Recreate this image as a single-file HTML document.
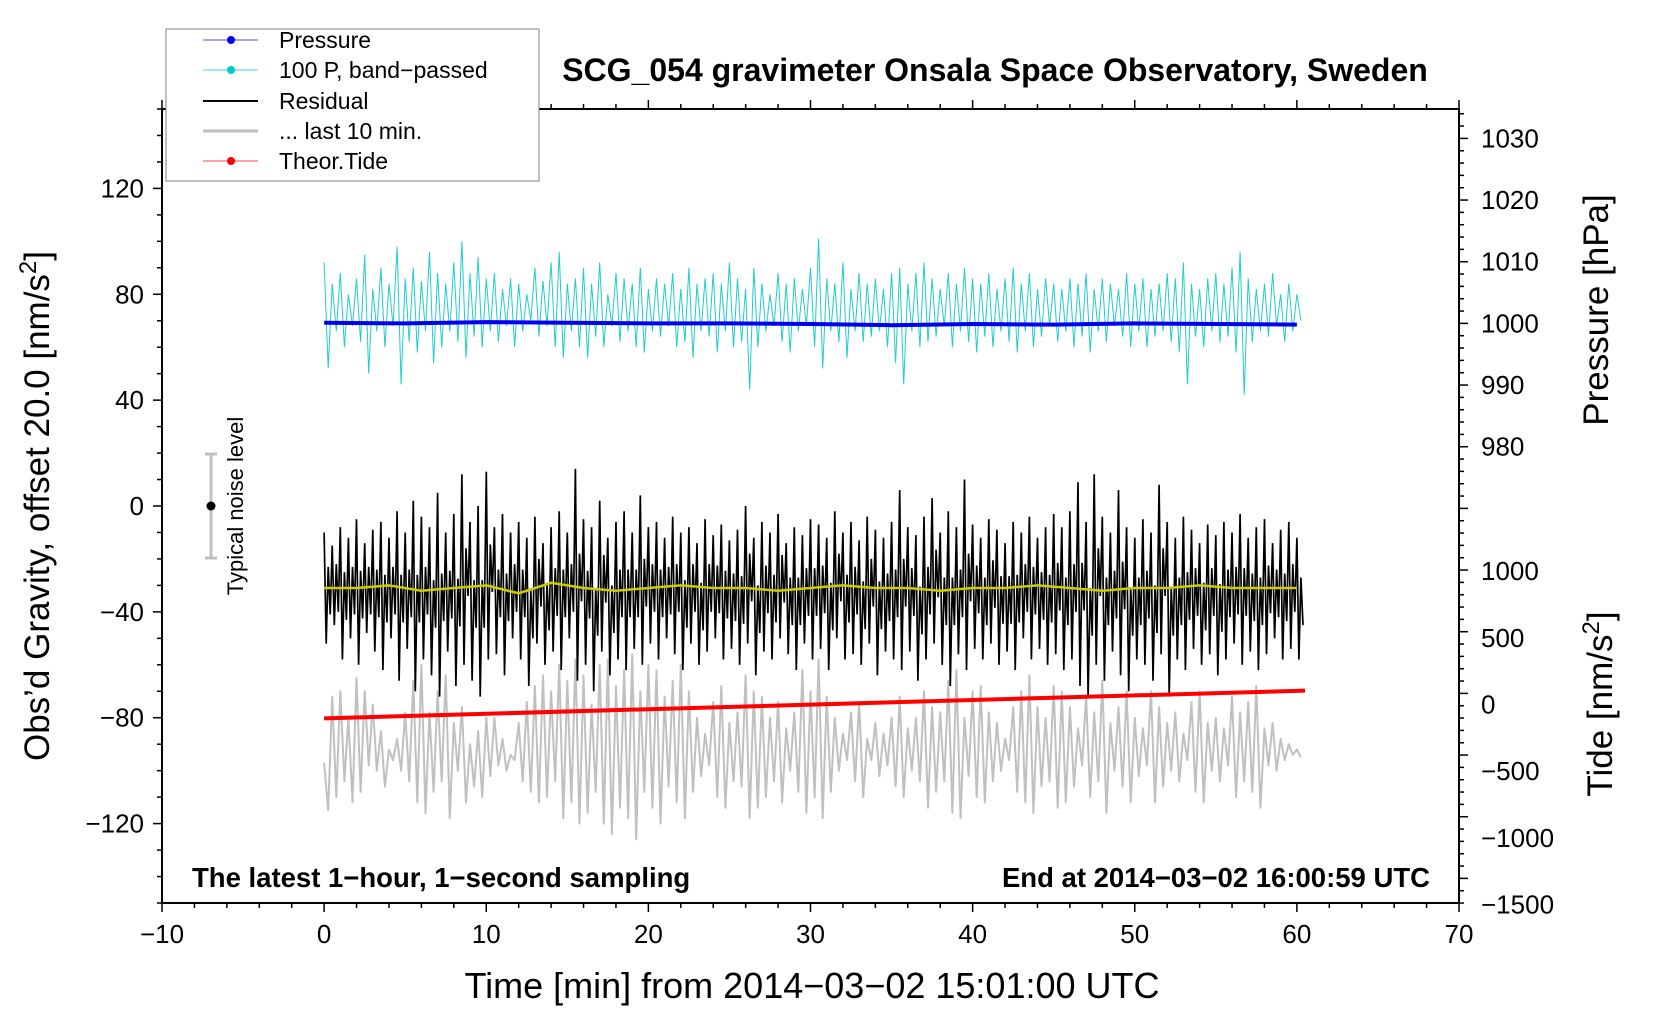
<!DOCTYPE html>
<html><head><meta charset="utf-8"><style>
html,body{margin:0;padding:0;background:#fff;}
svg{display:block;font-family:"Liberation Sans",sans-serif;}
</style></head><body>
<svg id="c" width="1660" height="1020" viewBox="0 0 1660 1020"></svg>
<script>
const resHi=[-10,-15,-8,-12,-5,-14,-9,-6,-12,-2,-10,2,-4,-8,5,-10,-3,12,-6,0,13,-8,-3,-10,-6,-12,-4,-14,-8,-2,-10,14,-5,-8,2,-12,-6,-2,-10,4,-8,-6,-12,-4,-10,-8,-14,-5,-11,-7,-13,-9,0,-12,-6,-10,-3,-14,-8,-11,-5,-7,-12,-2,-10,-6,-13,-4,-9,-12,-6,6,-8,-11,-4,3,-10,-2,-8,10,-7,-12,-5,-9,-14,-6,-10,-4,-12,-8,-3,-8,-2,9,-6,12,-4,-10,6,-8,-12,-5,-10,8,-6,-12,-4,-9,-14,-7,-11,-6,-10,-3,-12,-8,-5,-14,-9,-6,-12];
const resLo=[-52,-45,-58,-50,-60,-48,-55,-62,-50,-66,-54,-70,-58,-64,-72,-55,-68,-60,-66,-72,-58,-56,-64,-50,-58,-68,-52,-60,-55,-62,-50,-66,-60,-70,-55,-64,-58,-62,-54,-60,-52,-58,-50,-56,-62,-52,-60,-55,-50,-58,-54,-60,-52,-64,-55,-58,-50,-56,-62,-52,-58,-54,-62,-50,-58,-56,-60,-52,-64,-55,-58,-62,-55,-66,-58,-52,-60,-68,-56,-62,-54,-58,-52,-60,-55,-62,-50,-58,-54,-60,-56,-62,-58,-68,-72,-60,-66,-55,-64,-70,-58,-60,-66,-56,-72,-58,-62,-54,-60,-56,-64,-58,-52,-60,-55,-62,-56,-50,-58,-54,-58];
const cyHi=[92,84,88,80,86,95,82,90,84,98,86,90,85,96,88,84,92,100,88,94,86,88,82,86,84,80,90,85,92,96,84,86,90,84,92,80,88,86,84,90,82,86,84,88,82,90,84,86,88,84,92,86,82,90,84,80,88,84,86,82,90,101,86,84,92,82,88,84,86,82,88,90,84,88,92,86,82,88,84,90,86,84,88,82,86,90,84,88,82,86,84,82,86,84,88,82,86,84,82,88,84,86,82,84,88,86,92,84,82,86,88,84,90,96,86,82,84,88,80,84,80];
const cyLo=[52,66,60,68,62,50,66,60,68,46,62,58,66,54,60,66,62,56,64,60,66,62,68,60,66,70,64,68,60,56,66,60,56,64,60,68,62,66,60,58,66,64,68,60,62,56,66,64,58,66,60,62,44,60,66,68,62,58,66,68,60,52,66,62,56,66,62,64,66,60,54,46,66,60,62,64,68,60,66,62,58,64,60,66,62,58,66,60,64,68,62,66,60,64,58,66,62,68,64,60,66,60,64,66,62,58,46,64,60,66,62,64,58,42,62,66,64,68,62,66,70];
const grHi=[-97,-72,-70,-80,-65,-70,-75,-85,-92,-88,-78,-66,-60,-78,-70,-64,-82,-76,-90,-85,-80,-80,-88,-94,-82,-74,-68,-64,-70,-60,-66,-58,-64,-75,-60,-58,-68,-62,-56,-70,-60,-62,-72,-66,-60,-70,-80,-86,-74,-68,-82,-78,-64,-70,-72,-80,-74,-84,-78,-62,-70,-58,-72,-80,-86,-78,-74,-88,-82,-86,-80,-72,-84,-80,-70,-76,-78,-66,-62,-80,-70,-68,-78,-82,-88,-76,-70,-64,-76,-80,-68,-70,-76,-84,-72,-78,-66,-82,-76,-70,-80,-84,-70,-76,-82,-78,-86,-74,-70,-82,-80,-84,-72,-78,-74,-68,-84,-82,-88,-90,-92];
const grLo=[-115,-110,-104,-112,-108,-98,-100,-106,-96,-100,-104,-112,-116,-108,-104,-118,-100,-112,-106,-110,-102,-98,-100,-96,-104,-108,-112,-110,-104,-118,-112,-120,-116,-108,-120,-124,-114,-118,-126,-108,-114,-120,-106,-112,-118,-108,-102,-98,-110,-114,-104,-106,-118,-114,-110,-104,-112,-100,-108,-116,-110,-118,-108,-100,-96,-104,-110,-96,-102,-98,-106,-110,-100,-104,-114,-108,-104,-116,-118,-102,-110,-112,-104,-100,-96,-108,-112,-116,-106,-104,-114,-112,-106,-98,-110,-104,-116,-100,-106,-112,-102,-98,-112,-106,-100,-104,-96,-108,-112,-100,-104,-98,-110,-104,-108,-114,-98,-100,-96,-94,-95];
const meanVals=[-31,-31,-30,-32,-31,-30,-33,-29,-31,-32,-31,-30,-31,-31,-32,-31,-30,-31,-31,-32,-31,-31,-30,-31,-32,-31,-31,-30,-31,-31,-31];
const pressVals=[1000.1,1000,1000.2,1000.1,1000,1000,999.9,999.7,999.9,999.8,1000,999.9,999.8];
const tideTimes=[0,60.5];
const tideVals=[-104,104];
const xTicks=[-10,0,10,20,30,40,50,60,70];
const yTicks=[-120,-80,-40,0,40,80,120];
const pTicks=[980,990,1000,1010,1020,1030];
const tTicks=[-1500,-1000,-500,0,500,1000];

const L=162,R=1459,T=109,B=903;
const xS=t=>L+(t+10)/80*(R-L);
const yL=v=>T+(150-v)/300*(B-T);
const yP=p=>yL(69+(p-1000)*2.33);
const yT=t=>yL(-75+t*0.0504);
const svg=document.getElementById('c');
const NS='http://www.w3.org/2000/svg';
function mk(tag,at,txt){const e=document.createElementNS(NS,tag);for(const k in at)e.setAttribute(k,at[k]);if(txt!==undefined)e.textContent=txt;svg.appendChild(e);return e;}
let e;
let d='';grHi.forEach((v,i)=>{d+=(i?'L':'M')+xS(i*0.5).toFixed(1)+','+yL(v).toFixed(1)+'L'+xS(i*0.5+0.25).toFixed(1)+','+yL(grLo[i]).toFixed(1);});
e=mk('path',{d:d,fill:'none',stroke:'#c0c0c0','stroke-width':2,'stroke-linejoin':'round'});


d='';cyHi.forEach((v,i)=>{d+=(i?'L':'M')+xS(i*0.5).toFixed(1)+','+yL(v).toFixed(1)+'L'+xS(i*0.5+0.25).toFixed(1)+','+yL(cyLo[i]).toFixed(1);});
e=mk('path',{d:d,fill:'none',stroke:'#22cccc','stroke-width':1});


d='';resHi.forEach((v,i)=>{d+=(i?'L':'M')+xS(i*0.5).toFixed(1)+','+yL(v).toFixed(1)+'L'+xS(i*0.5+0.125).toFixed(1)+','+yL(resLo[i]).toFixed(1)+'L'+xS(i*0.5+0.25).toFixed(1)+','+yL((v+resLo[i])/2+8).toFixed(1)+'L'+xS(i*0.5+0.375).toFixed(1)+','+yL((v+resLo[i])/2-10).toFixed(1);});
e=mk('path',{d:d,fill:'none',stroke:'#000','stroke-width':1.7});


d='';meanVals.forEach((v,i)=>{d+=(i?'L':'M')+xS(i*2).toFixed(1)+','+yL(v).toFixed(1);});
e=mk('path',{d:d,fill:'none',stroke:'#cccc00','stroke-width':2.5});


d='';pressVals.forEach((v,i)=>{d+=(i?'L':'M')+xS(i*5).toFixed(1)+','+yP(v).toFixed(1);});
e=mk('path',{d:d,fill:'none',stroke:'#0000ee','stroke-width':4});


d='';tideVals.forEach((v,i)=>{d+=(i?'L':'M')+xS(tideTimes[i]).toFixed(1)+','+yT(v).toFixed(1);});
e=mk('path',{d:d,fill:'none',stroke:'#ff0000','stroke-width':4});


e=mk('rect',{x:L,y:T,width:R-L,height:B-T,fill:'none',stroke:'#000','stroke-width':2});


for(let t=-10;t<=70;t+=2){const big=t%10===0;mk('line',{x1:xS(t),x2:xS(t),y1:B,y2:B+(big?9:5),stroke:'#000','stroke-width':1.5});mk('line',{x1:xS(t),x2:xS(t),y1:T,y2:T-(big?9:5),stroke:'#000','stroke-width':1.5});}
xTicks.forEach(t=>{e=mk('text',{x:xS(t),y:B+40,'font-size':26,'text-anchor':'middle'},String(t).replace('-','\u2212'));

});
for(let v=-150;v<=150;v+=10){const big=v%40===0;mk('line',{x1:L,x2:L-(big?9:5),y1:yL(v),y2:yL(v),stroke:'#000','stroke-width':1.5});}
yTicks.forEach(v=>{e=mk('text',{x:L-18,y:yL(v)+9,'font-size':26,'text-anchor':'end'},String(v).replace('-','\u2212'));

});
for(let p=906;p<=1035;p+=2){const big=p%10===0;mk('line',{x1:R,x2:R+(big?9:5),y1:yP(p),y2:yP(p),stroke:'#000','stroke-width':1.5});}
pTicks.forEach(p=>{e=mk('text',{x:R+22,y:yP(p)+9,'font-size':26},String(p));

});
tTicks.forEach(t=>{e=mk('text',{x:R+22,y:yT(t)+9,'font-size':26},String(t).replace('-','\u2212'));

});
</script>
<svg width="1660" height="1020" style="position:absolute;left:0;top:0;font-family:'Liberation Sans',sans-serif">
<text x="995" y="81" font-size="32" font-weight="bold" text-anchor="middle">SCG_054 gravimeter Onsala Space Observatory, Sweden</text>
<text x="192" y="887" font-size="27.5" font-weight="bold">The latest 1−hour, 1−second sampling</text>
<text x="1430" y="887" font-size="27.5" font-weight="bold" text-anchor="end">End at 2014−03−02 16:00:59 UTC</text>
<text x="812" y="998" font-size="36" text-anchor="middle">Time [min] from 2014−03−02 15:01:00 UTC</text>
<text transform="translate(49,506) rotate(-90)" font-size="35" text-anchor="middle">Obs’d Gravity, offset 20.0 [nm/s<tspan baseline-shift="super" font-size="24">2</tspan>]</text>
<text transform="translate(1608,310) rotate(-90)" font-size="35" text-anchor="middle">Pressure [hPa]</text>
<text transform="translate(1612,704) rotate(-90)" font-size="35" text-anchor="middle">Tide [nm/s<tspan baseline-shift="super" font-size="24">2</tspan>]</text>
<g>
<line x1="211" x2="211" y1="454" y2="558" stroke="#c0c0c0" stroke-width="3"/>
<line x1="205" x2="217" y1="454" y2="454" stroke="#c0c0c0" stroke-width="3"/>
<line x1="205" x2="217" y1="558" y2="558" stroke="#c0c0c0" stroke-width="3"/>
<circle cx="211" cy="506" r="4.5" fill="#000"/>
<text transform="translate(243,506) rotate(-90)" font-size="22" text-anchor="middle">Typical noise level</text>
</g>
<g>
<rect x="166" y="29" width="373" height="152" fill="#fff" stroke="#808080" stroke-width="1"/>
<line x1="203" x2="258" y1="40" y2="40" stroke="#4444ff"/><circle cx="231" cy="40" r="4" fill="#0000ff"/>
<text x="279" y="48" font-size="23">Pressure</text>
<line x1="203" x2="258" y1="70" y2="70" stroke="#44cccc"/><circle cx="231" cy="70" r="4" fill="#00cccc"/>
<text x="279" y="78" font-size="23">100 P, band−passed</text>
<line x1="203" x2="258" y1="101" y2="101" stroke="#000" stroke-width="2"/>
<text x="279" y="109" font-size="23">Residual</text>
<line x1="203" x2="258" y1="131" y2="131" stroke="#c0c0c0" stroke-width="3"/>
<text x="279" y="139" font-size="23">... last 10 min.</text>
<line x1="203" x2="258" y1="161" y2="161" stroke="#ff4444"/><circle cx="231" cy="161" r="4" fill="#ff0000"/>
<text x="279" y="169" font-size="23">Theor.Tide</text>
</g>
</svg>
</body></html>
